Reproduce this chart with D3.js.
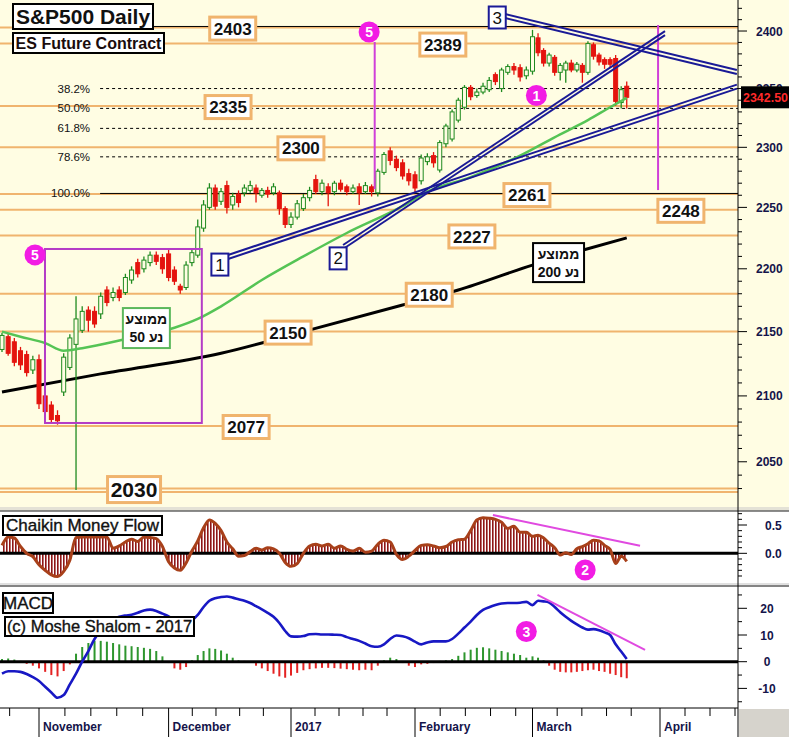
<!DOCTYPE html>
<html><head><meta charset="utf-8">
<script src="https://cdn.jsdelivr.net/npm/d3@7/dist/d3.min.js"></script>
<style>html,body{margin:0;padding:0;background:#fff;}svg{display:block;font-family:Arial,"Liberation Sans",sans-serif;}</style>
</head><body>
<svg id="chart" width="789" height="737"></svg>
<script>
// ---------------- DATA ----------------
const tradingDays = [
"2016-10-24","2016-10-25","2016-10-26","2016-10-27","2016-10-28","2016-10-31",
"2016-11-01","2016-11-02","2016-11-03","2016-11-04","2016-11-07","2016-11-08","2016-11-09","2016-11-10","2016-11-11",
"2016-11-14","2016-11-15","2016-11-16","2016-11-17","2016-11-18","2016-11-21","2016-11-22","2016-11-23","2016-11-25",
"2016-11-28","2016-11-29","2016-11-30",
"2016-12-01","2016-12-02","2016-12-05","2016-12-06","2016-12-07","2016-12-08","2016-12-09","2016-12-12","2016-12-13",
"2016-12-14","2016-12-15","2016-12-16","2016-12-19","2016-12-20","2016-12-21","2016-12-22","2016-12-23","2016-12-27",
"2016-12-28","2016-12-29","2016-12-30",
"2017-01-03","2017-01-04","2017-01-05","2017-01-06","2017-01-09","2017-01-10","2017-01-11","2017-01-12","2017-01-13",
"2017-01-17","2017-01-18","2017-01-19","2017-01-20","2017-01-23","2017-01-24","2017-01-25","2017-01-26","2017-01-27",
"2017-01-30","2017-01-31",
"2017-02-01","2017-02-02","2017-02-03","2017-02-06","2017-02-07","2017-02-08","2017-02-09","2017-02-10","2017-02-13",
"2017-02-14","2017-02-15","2017-02-16","2017-02-17","2017-02-21","2017-02-22","2017-02-23","2017-02-24","2017-02-27",
"2017-02-28",
"2017-03-01","2017-03-02","2017-03-03","2017-03-06","2017-03-07","2017-03-08","2017-03-09","2017-03-10","2017-03-13",
"2017-03-14","2017-03-15","2017-03-16","2017-03-17","2017-03-20","2017-03-21","2017-03-22","2017-03-23","2017-03-24",
"2017-03-27","2017-03-28","2017-03-29","2017-03-30","2017-03-31",
"2017-04-03","2017-04-04","2017-04-05","2017-04-06","2017-04-07","2017-04-10","2017-04-11","2017-04-12","2017-04-13",
"2017-04-17","2017-04-18","2017-04-19","2017-04-20","2017-04-21"];

const opens  = [2136,2146,2142,2135,2132,2120,2128,2100,2093,2085,2103,2122,2140,2151,2167,2166,2164,2183,2177,2183,
2181,2191,2205,2200,2205,2211,2209,2212,2199,2186,2185,2205,2211,2233,2250,2266,2255,2268,2252,2261,
2262,2264,2266,2260,2264,2262,2262,2249,2236,2242,2249,2258,2273,2263,2267,2263,2270,2267,2263,2267,
2263,2267,2262,2279,2297,2290,2287,2278,2277,2272,2288,2293,2281,2303,2307,2323,2334,2351,2344,2347,
2349,2362,2350,2364,2369,2368,2361,2365,2394,2383,2372,2377,2364,2366,2372,2366,2370,2364,2388,2379,
2375,2375,2376,2338,2352];
const highs  = [2149,2149,2145,2138,2135,2131,2132,2104,2096,2089,2133,2148,2178,2170,2170,2170,2181,2186,2185,2186,
2196,2202,2208,2210,2214,2214,2212,2216,2202,2188,2206,2216,2240,2256,2270,2269,2266,2272,2262,2264,
2269,2272,2269,2266,2267,2270,2264,2251,2246,2256,2261,2267,2277,2273,2270,2272,2273,2269,2269,2270,
2271,2269,2282,2296,2300,2293,2290,2282,2280,2294,2295,2296,2306,2320,2332,2342,2353,2353,2350,2355,
2360,2364,2368,2371,2372,2371,2369,2401,2398,2385,2381,2379,2372,2374,2375,2373,2372,2391,2390,2381,
2377,2377,2379,2352,2356];
const lows   = [2134,2131,2123,2120,2115,2117,2090,2085,2079,2078,2100,2120,2029,2149,2150,2153,2160,2170,2174,2174,
2179,2188,2193,2197,2202,2203,2196,2190,2187,2180,2183,2202,2209,2230,2248,2248,2252,2245,2248,2250,
2259,2262,2254,2258,2258,2260,2244,2233,2233,2240,2247,2255,2261,2260,2251,2260,2263,2260,2261,2252,
2261,2259,2259,2277,2285,2280,2273,2268,2262,2269,2285,2283,2279,2300,2305,2321,2332,2340,2342,2345,
2347,2353,2347,2362,2362,2356,2358,2362,2378,2369,2369,2361,2357,2355,2364,2364,2355,2362,2375,2370,
2367,2368,2335,2333,2333];
const closes = [2147,2133,2126,2124,2118,2128,2094,2088,2082,2081,2130,2145,2160,2166,2159,2156,2178,2173,2181,2177,
2193,2199,2196,2207,2211,2206,2200,2193,2190,2183,2203,2213,2234,2252,2266,2251,2263,2250,2259,2254,
2266,2268,2262,2264,2261,2267,2249,2236,2242,2253,2258,2264,2263,2270,2262,2270,2265,2263,2266,2262,
2268,2263,2280,2294,2289,2283,2276,2272,2266,2291,2292,2287,2304,2318,2330,2340,2351,2343,2347,2352,
2357,2356,2366,2369,2366,2360,2366,2395,2381,2372,2379,2364,2370,2372,2366,2371,2364,2389,2378,2373,
2371,2371,2339,2349,2342.5];

// moving averages
const ma50Dates  = ["2016-10-24","2016-10-27","2016-11-02","2016-11-07","2016-11-10","2016-11-21","2016-12-02","2016-12-08",
"2016-12-14","2016-12-23","2017-01-05","2017-01-17","2017-01-30","2017-02-03","2017-02-14","2017-02-27","2017-03-08",
"2017-03-15","2017-03-21","2017-03-24"];
const ma50Values = [2150,2146,2141,2135,2137,2144,2153,2160,2170,2191,2210,2229,2251,2263,2275,2293,2311,2323,2334,2342];
const ma200Dates  = ["2016-10-24","2016-11-15","2016-12-14","2017-01-05","2017-01-30","2017-02-10","2017-03-01","2017-03-14","2017-03-24"];
const ma200Values = [2103,2117,2133,2150,2171,2183,2203,2215,2225];

// Chaikin Money Flow
const cmfValues = [0.14,0.29,0.27,0.12,0.0,-0.06,-0.20,-0.30,-0.38,-0.41,
-0.32,-0.12,0.28,0.29,0.29,0.29,0.29,0.29,0.09,0.13,
0.20,0.25,0.21,0.29,0.28,0.26,0.12,-0.15,-0.26,-0.30,
-0.17,0.04,0.22,0.45,0.59,0.53,0.40,0.20,0.08,-0.05,
-0.04,0.03,0.09,0.06,0.10,0.08,0.0,-0.16,-0.23,-0.18,
0.0,0.13,0.16,0.13,0.16,0.09,0.13,0.07,0.04,0.09,
0.02,0.04,0.16,0.23,0.20,-0.02,-0.11,-0.05,0.05,0.14,
0.15,0.13,0.10,0.12,0.20,0.24,0.25,0.40,0.59,0.63,
0.62,0.60,0.55,0.44,0.48,0.37,0.37,0.30,0.32,0.27,
0.18,0.10,-0.03,0.01,-0.02,0.08,0.12,0.17,0.23,0.22,
0.14,0.07,-0.18,-0.05,-0.14];

// MACD
const macdLine = [-4.5,-3.6,-3.6,-3.8,-4.6,-5.8,-7.2,-9.4,-11.5,-13.5,
-12.5,-8.5,-4.5,0.0,4.0,8.5,11.5,14.0,15.8,16.8,
17.3,17.6,18.3,19.2,19.5,19.0,18.0,17.0,15.5,14.8,
14.8,15.5,17.5,20.5,22.8,23.8,24.2,24.4,24.0,23.4,
22.8,22.0,20.8,19.6,18.3,16.8,14.5,11.5,9.5,9.4,
9.6,10.3,10.4,10.2,10.2,10.1,10.0,9.2,8.5,7.8,
6.8,5.8,5.6,6.5,8.5,9.8,9.5,8.8,7.5,6.5,
7.2,7.6,7.6,7.6,8.5,10.5,12.8,15.0,17.5,19.4,
20.4,21.2,21.8,22.0,22.0,22.1,22.4,21.2,22.8,22.6,
22.2,20.5,18.5,16.8,15.3,14.0,12.8,12.0,12.2,11.8,
11.0,10.0,6.5,3.8,1.0];
const macdHist = [1.0,1.2,0.8,0.3,-0.8,-1.5,-2.5,-3.8,-5.0,-5.5,
-3.5,-1.0,3.0,5.5,7.0,7.8,7.8,7.5,7.0,6.5,
6.0,5.8,5.5,5.2,4.8,4.0,2.0,-0.5,-2.5,-3.0,
-2.0,0.5,2.5,4.0,5.0,4.8,4.2,3.0,1.5,0.5,
0.3,-0.3,-1.5,-2.5,-3.5,-4.5,-5.5,-6.0,-5.2,-4.2,
-3.2,-2.8,-2.5,-2.3,-2.3,-2.4,-2.6,-2.8,-3.0,-3.2,
-3.0,-3.2,-1.5,0.5,1.5,1.0,-0.5,-1.5,-2.0,-1.0,
-0.8,-0.5,0.3,0.5,1.0,2.2,3.5,4.5,5.2,5.4,
5.0,4.5,4.0,3.5,3.0,2.5,1.5,2.0,1.5,0.5,
-1.5,-3.0,-3.8,-4.0,-4.0,-3.8,-3.5,-3.2,-3.0,-3.5,
-3.8,-4.5,-5.0,-5.8,-6.2];

// support / resistance levels and their label positions (trading-day index)
const levelValues  = [2403,2389,2335,2300,2261,2248,2227,2180,2150,2077,2030];
const levelLabelAt = [38.0,72.5,37.2,49.6,86.1,113.75,77.2,70.3,47.5,40.3,21.4];
const extraLevels  = [2027.5];

// Fibonacci retracement
const fibLabels = ["0.0%","38.2%","50.0%","61.8%","78.6%","100.0%"];
const fibValues = [2404,2350,2333,2316,2292,2261.5];

// axis tick labels
const priceTicks = [2050,2100,2150,2200,2250,2300,2350,2400];
const cmfTicks = [0.0,0.5];
const macdTicks = [-10,0,10,20];
const monthLabels = ["November","December","2017","February","March","April"];
const minorTickDays = [7,13,19,25];
const lastPrice = 2342.50;

// trendlines [index, price]
const trend1 = [[37.2,2209.5],[123.8,2351.7]];
const trend2 = [[56.4,2217.6],[110.9,2398.2]];
const trend3 = [[82.6,2413.2],[123.8,2364.3]];

// ---------------- SETUP ----------------
const BG = "#FFFDE3", AX = 738, ORANGE = "#F0B46E", NAVY = "#1A1A96", MAG = "#F21CE4", AXTXT = "#14144A";
const parse = d3.timeParse("%Y-%m-%d");
const dayIndex = new Map(tradingDays.map((d,i)=>[d,i]));
const monthKey = d => d.slice(0,7);
const firstIdx = [];
tradingDays.forEach((d,i)=>{ if(i>0 && monthKey(d)!==monthKey(tradingDays[i-1])) firstIdx.push(i); });
const monthPx = [39,168.6,291,415,532.5,660];
const x = d3.scaleLinear().domain([0,...firstIdx,tradingDays.length-1]).range([2,...monthPx,732.4]);
const calMonths = ["2016-10-01","2016-11-01","2016-12-01","2017-01-01","2017-02-01","2017-03-01","2017-04-01","2017-05-01"].map(parse);
const xt = d3.scaleTime().domain(calMonths).range([-91,...monthPx,785]);

const yM = d3.scaleLog().domain([2019.3,2427.4]).range([503,0]);
const yC = d3.scaleLinear().domain([-0.5,0.5]).range([581.65,525]);
const yD = d3.scaleLinear().domain([0,20]).range([661.7,608.3]);

const svg = d3.select("#chart");
const defs = svg.append("defs");
defs.append("clipPath").attr("id","clipMain").append("rect").attr("x",0).attr("y",0).attr("width",AX).attr("height",506);
defs.append("clipPath").attr("id","clipLow").append("rect").attr("x",0).attr("y",508).attr("width",AX).attr("height",200);
const pat = defs.append("pattern").attr("id","hatch").attr("width",3).attr("height",10).attr("patternUnits","userSpaceOnUse");
pat.append("rect").attr("width",3).attr("height",10).attr("fill","#fff");
pat.append("rect").attr("width",1.6).attr("height",10).attr("fill","#8E1616");

// backgrounds
svg.append("rect").attr("x",0).attr("y",0).attr("width",789).attr("height",509).attr("fill",BG);
svg.append("rect").attr("x",0).attr("y",509).attr("width",789).attr("height",228).attr("fill","#fff");
svg.append("rect").attr("x",0).attr("y",507).attr("width",789).attr("height",4).attr("fill","#E4E2D6");
svg.append("line").attr("x1",0).attr("x2",789).attr("y1",511).attr("y2",511).attr("stroke","#666").attr("stroke-width",1.5);
svg.append("rect").attr("x",0).attr("y",583).attr("width",789).attr("height",4).attr("fill","#E0E0E0");
svg.append("line").attr("x1",0).attr("x2",789).attr("y1",586).attr("y2",586).attr("stroke","#666").attr("stroke-width",1.5);
svg.append("rect").attr("x",AX+1).attr("y",709).attr("width",789-AX).attr("height",28).attr("fill","#D6D3CC");

// ---------------- MAIN PANEL ----------------
const main = svg.append("g").attr("clip-path","url(#clipMain)");

main.selectAll("line.lvl").data(levelValues.concat(extraLevels)).join("line")
  .attr("x1",0).attr("x2",AX).attr("y1",d=>yM(d)).attr("y2",d=>yM(d))
  .attr("stroke",ORANGE).attr("stroke-width",2);

const fibStart = 15.9;
main.selectAll("line.fib").data(fibValues).join("line")
  .attr("x1",x(fibStart)).attr("x2",AX).attr("y1",d=>yM(d)).attr("y2",d=>yM(d))
  .attr("stroke","#000").attr("stroke-width",1)
  .attr("stroke-dasharray",(d,i)=> (i===0||i===fibValues.length-1)?null:"3,3");
main.selectAll("text.fib").data(fibValues).join("text")
  .attr("x",x(fibStart)-10).attr("y",d=>yM(d)+4).attr("text-anchor","end")
  .attr("font-size",11.5).attr("fill","#111").text((d,i)=>fibLabels[i]);

const maLine = d3.line().x(d=>x(dayIndex.get(d[0]))).y(d=>yM(d[1])).curve(d3.curveMonotoneX);
main.append("path").attr("d",maLine(d3.zip(ma200Dates,ma200Values)))
  .attr("fill","none").attr("stroke","#000").attr("stroke-width",3);

const cg = main.append("g");
closes.forEach((c,i)=>{
  const o=opens[i], up=c>=o, cx=x(i);
  const col = up ? "#1F8A1F" : "#E4140E";
  cg.append("line").attr("x1",cx).attr("x2",cx).attr("y1",yM(highs[i])).attr("y2",yM(lows[i]))
    .attr("stroke",col).attr("stroke-width",1.3);
  const top=yM(Math.max(o,c)), bot=yM(Math.min(o,c));
  cg.append("rect").attr("x",cx-2).attr("y",top).attr("width",4).attr("height",Math.max(1,bot-top))
    .attr("fill",up?BG:col).attr("stroke",col).attr("stroke-width",1);
});

main.append("path").attr("d",maLine(d3.zip(ma50Dates,ma50Values)))
  .attr("fill","none").attr("stroke","#55C455").attr("stroke-width",2.5);

main.append("rect").attr("x",x(6.97)).attr("y",yM(2216)).attr("width",x(32.7)-x(6.97)).attr("height",yM(2079.3)-yM(2216))
  .attr("fill","none").attr("stroke","#B43CC6").attr("stroke-width",2);
[[61.5,2390.4,2265.1],[109.65,2405.3,2264.3]].forEach(v=>{
  main.append("line").attr("x1",x(v[0])).attr("x2",x(v[0])).attr("y1",yM(v[1])).attr("y2",yM(v[2]))
    .attr("stroke","#D040D8").attr("stroke-width",2);
});

[trend1,trend2,trend3].forEach(t=>{
  [-2,2].forEach(off=>{
    main.append("line").attr("x1",x(t[0][0])).attr("y1",yM(t[0][1])+off)
      .attr("x2",x(t[1][0])).attr("y2",yM(t[1][1])+off)
      .attr("stroke",NAVY).attr("stroke-width",2);
  });
});

function labelBox(g,cx,cy,txt,w,h,fs,stroke,sw,weight){
  g.append("rect").attr("x",cx-w/2).attr("y",cy-h/2).attr("width",w).attr("height",h)
    .attr("fill","#fff").attr("stroke",stroke).attr("stroke-width",sw);
  g.append("text").attr("x",cx).attr("y",cy+fs*0.36).attr("text-anchor","middle")
    .attr("font-size",fs).attr("font-weight",weight||"bold").attr("fill","#111").text(txt);
}
levelValues.forEach((v,i)=>{
  const big = v===2030;
  labelBox(main,x(levelLabelAt[i]),yM(v)+1,String(v),big?53:46,big?26:23,big?21:17,ORANGE,3);
});

[[35.8,2203.4,"1"],[55.6,2208.4,"2"],[81.3,2411.9,"3"]].forEach(b=>{
  labelBox(main,x(b[0]),yM(b[1]),b[2],17,22,17,NAVY,2,"normal");
});

function maBox(cx,cy,w,h,stroke,num){
  main.append("rect").attr("x",cx-w/2).attr("y",cy-h/2).attr("width",w).attr("height",h)
    .attr("fill","#fff").attr("stroke",stroke).attr("stroke-width",2);
  main.append("text").attr("x",cx).attr("y",cy-4).attr("text-anchor","middle").attr("direction","rtl")
    .attr("font-size",14).attr("font-weight","bold").attr("fill","#111").text("ממוצע");
  main.append("text").attr("x",cx).attr("y",cy+14).attr("text-anchor","middle").attr("direction","rtl")
    .attr("font-size",14).attr("font-weight","bold").attr("fill","#111").text("נע "+num);
}
maBox(x(23.4),yM(2152.8),47,40,"#5CB85C","50");
maBox(x(91.7),yM(2205),51,39,"#000","200");

function circ(g,cx,cy,t){
  g.append("circle").attr("cx",cx).attr("cy",cy).attr("r",10.5).attr("fill",MAG);
  g.append("text").attr("x",cx).attr("y",cy+5).attr("text-anchor","middle").attr("font-size",14)
    .attr("font-weight","bold").attr("fill","#fff").text(t);
}
circ(main,x(5.35),yM(2211.2),"5");
circ(main,x(60.6),yM(2399.1),"5");
circ(main,x(87.7),yM(2344),"1");

svg.append("rect").attr("x",13).attr("y",4).attr("width",140).attr("height",25).attr("fill","#fff").attr("stroke","#000").attr("stroke-width",2);
svg.append("text").attr("x",83).attr("y",24).attr("text-anchor","middle").attr("font-size",21).attr("font-weight","bold").attr("fill","#111").text("S&P500 Daily");
svg.append("rect").attr("x",13).attr("y",33).attr("width",151).attr("height",20).attr("fill","#fff").attr("stroke","#000").attr("stroke-width",2);
svg.append("text").attr("x",88.5).attr("y",49).attr("text-anchor","middle").attr("font-size",16).attr("font-weight","bold").attr("fill","#1a0c0c").text("ES Future Contract");

svg.append("line").attr("x1",AX).attr("x2",AX).attr("y1",0).attr("y2",737).attr("stroke","#000").attr("stroke-width",1);
const ax = svg.append("g");
d3.range(2030,2430,10).forEach(v=>{
  const yy=yM(v); if(yy<1||yy>505) return;
  ax.append("line").attr("x1",AX).attr("x2",AX+(v%50===0?9:4)).attr("y1",yy).attr("y2",yy).attr("stroke","#000");
});
priceTicks.forEach(v=>{
  ax.append("text").attr("x",756).attr("y",yM(v)+4.5).attr("font-size",12).attr("font-weight","bold").attr("fill",AXTXT).text(v);
});
ax.append("rect").attr("x",741).attr("y",yM(lastPrice)-11).attr("width",48).attr("height",22).attr("fill","#000");
ax.append("text").attr("x",743).attr("y",yM(lastPrice)+5).attr("font-size",13).attr("font-weight","bold")
  .attr("fill","#FF2A2A").attr("textLength",45).attr("lengthAdjust","spacingAndGlyphs").text(lastPrice.toFixed(2));

// ---------------- CMF PANEL ----------------
const low = svg.append("g").attr("clip-path","url(#clipLow)");
const cmfArea = d3.area().x((d,i)=>x(i)).y0(yC(0)).y1(d=>yC(d));
low.append("path").attr("d",cmfArea(cmfValues)).attr("fill","url(#hatch)");
low.append("line").attr("x1",0).attr("x2",AX).attr("y1",yC(0)).attr("y2",yC(0)).attr("stroke","#000").attr("stroke-width",3);
low.append("path").attr("d",d3.line().x((d,i)=>x(i)).y(d=>yC(d)).curve(d3.curveMonotoneX)(cmfValues))
  .attr("fill","none").attr("stroke","#A8401A").attr("stroke-width",3);
low.append("line").attr("x1",x(80.6)).attr("y1",yC(0.675)).attr("x2",x(106.4)).attr("y2",yC(0.134))
  .attr("stroke","#E04AE0").attr("stroke-width",2);
circ(low,x(96.5),yC(-0.295),"2");
d3.range(-0.4,0.75,0.1).forEach(v=>{
  const yy=yC(v); if(yy<513||yy>583) return;
  const major = Math.abs(v)<1e-6 || Math.abs(v-0.5)<1e-6;
  svg.append("line").attr("x1",AX).attr("x2",AX+(major?9:4)).attr("y1",yy).attr("y2",yy).attr("stroke","#000");
});
cmfTicks.forEach(v=>{
  svg.append("text").attr("x",765).attr("y",yC(v)+4.5).attr("font-size",12).attr("font-weight","bold").attr("fill",AXTXT).text(v.toFixed(1));
});
svg.append("rect").attr("x",3).attr("y",516).attr("width",159).attr("height",19).attr("fill","#fff").attr("stroke","#000").attr("stroke-width",2);
svg.append("text").attr("x",82.5).attr("y",531).attr("text-anchor","middle").attr("font-size",17).attr("fill","#111")
  .attr("stroke","#111").attr("stroke-width",0.35).text("Chaikin Money Flow");

// ---------------- MACD PANEL ----------------
low.selectAll("rect.hist").data(macdHist).join("rect")
  .attr("x",(d,i)=>x(i)-1).attr("width",2)
  .attr("y",d=>d>=0?yD(d):yD(0)).attr("height",d=>Math.abs(yD(d)-yD(0)))
  .attr("fill",d=>d>=0?"#2E962E":"#E42222");
low.append("line").attr("x1",0).attr("x2",AX).attr("y1",yD(0)).attr("y2",yD(0)).attr("stroke","#000").attr("stroke-width",3);
low.append("path").attr("d",d3.line().x((d,i)=>x(i)).y(d=>yD(d)).curve(d3.curveMonotoneX)(macdLine))
  .attr("fill","none").attr("stroke","#1818C4").attr("stroke-width",2.6);
low.append("line").attr("x1",x(87.9)).attr("y1",yD(25)).attr("x2",x(107.3)).attr("y2",yD(4.4))
  .attr("stroke","#E04AE0").attr("stroke-width",2);
circ(low,x(86),yD(11.3),"3");
d3.range(-15,30,5).forEach(v=>{
  const yy=yD(v); if(yy<589||yy>707) return;
  svg.append("line").attr("x1",AX).attr("x2",AX+(v%10===0?9:4)).attr("y1",yy).attr("y2",yy).attr("stroke","#000");
});
macdTicks.forEach(v=>{
  svg.append("text").attr("x",767).attr("y",yD(v)+4.5).attr("text-anchor","middle").attr("font-size",12).attr("font-weight","bold").attr("fill",AXTXT).text(v);
});
svg.append("rect").attr("x",3).attr("y",593).attr("width",50).attr("height",20).attr("fill","#fff").attr("stroke","#000").attr("stroke-width",2);
svg.append("text").attr("x",28).attr("y",609).attr("text-anchor","middle").attr("font-size",17).attr("fill","#111")
  .attr("stroke","#111").attr("stroke-width",0.35).text("MACD");
svg.append("rect").attr("x",5).attr("y",617).attr("width",189).attr("height",19).attr("fill","#fff").attr("stroke","#000").attr("stroke-width",2);
svg.append("text").attr("x",99.5).attr("y",632).attr("text-anchor","middle").attr("font-size",16.5).attr("fill","#111")
  .attr("stroke","#111").attr("stroke-width",0.35).text("(c) Moshe Shalom - 2017");

// ---------------- X AXIS ----------------
svg.append("line").attr("x1",0).attr("x2",AX).attr("y1",708).attr("y2",708).attr("stroke","#000");
calMonths.slice(0,-1).forEach(m=>{
  minorTickDays.forEach(dd=>{
    const xx = xt(new Date(m.getFullYear(),m.getMonth(),dd));
    if(xx<1||xx>AX) return;
    svg.append("line").attr("x1",xx).attr("x2",xx).attr("y1",708).attr("y2",716).attr("stroke","#000");
  });
});
firstIdx.forEach((fi,k)=>{
  const xx=x(fi);
  svg.append("line").attr("x1",xx).attr("x2",xx).attr("y1",708).attr("y2",737).attr("stroke","#000");
  svg.append("text").attr("x",xx+4).attr("y",731).attr("font-size",12).attr("font-weight","bold").attr("fill",AXTXT).text(monthLabels[k]);
});
</script>
</body></html>
